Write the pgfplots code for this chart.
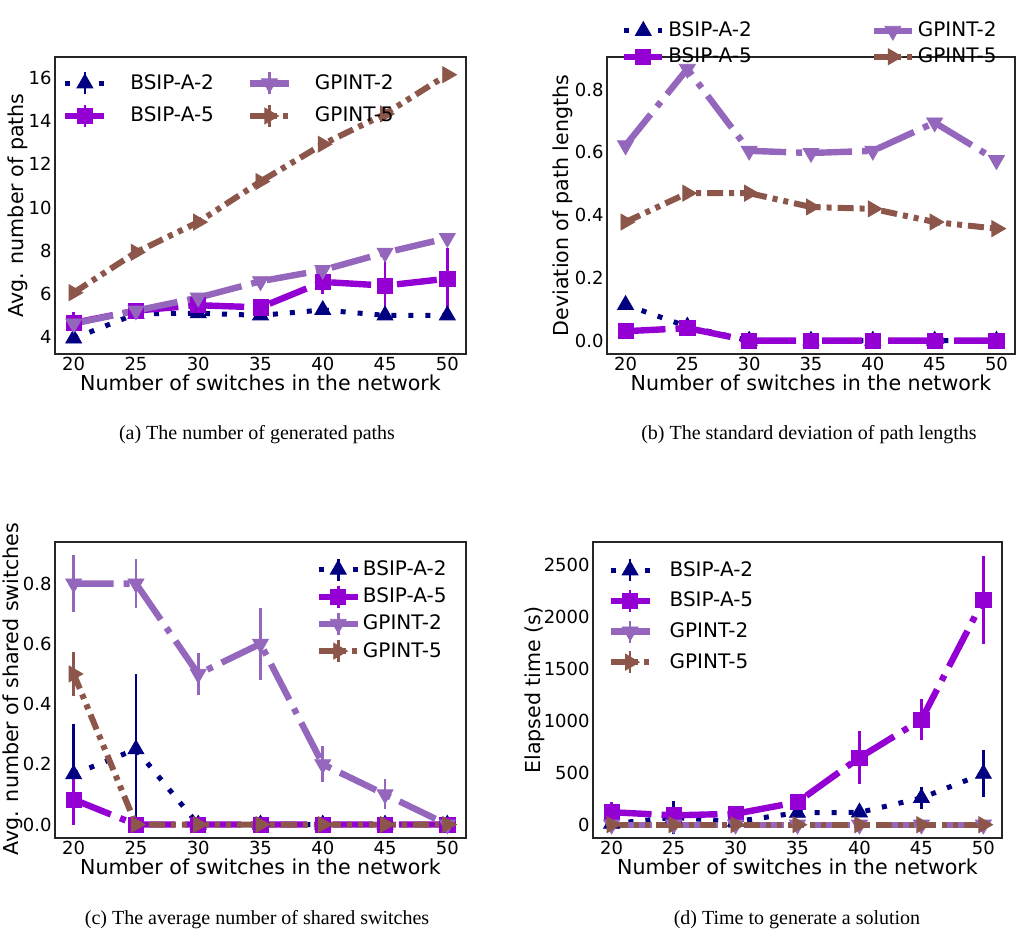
\documentclass[border=0pt]{standalone}
\usepackage{fontspec}
\setmainfont{DejaVu Sans}
\newfontfamily\capfont{Liberation Serif}
\usepackage{pgfplots}
\usepackage{pgfplotstable}
\pgfplotsset{compat=1.18}

\definecolor{navyc}{HTML}{000080}
\definecolor{violetc}{HTML}{9400D3}
\definecolor{tabpurple}{HTML}{9467BD}
\definecolor{tabbrown}{HTML}{8C564B}

% (a) avg number of paths: value, error
\pgfplotstableread{
x  a2   ea2  a5   ea5  g2   eg2  g5    eg5
20 3.93 0.10 4.65 0.50 4.62 0.10 6.05  0.10
25 5.07 0.10 5.22 0.15 5.22 0.10 7.92  0.10
30 5.10 0.08 5.47 0.15 5.82 0.10 9.32  0.10
35 5.00 0.06 5.37 0.20 6.58 0.10 11.20 0.10
40 5.25 0.25 6.55 0.55 7.10 0.10 12.93 0.10
45 5.00 0.06 6.38 1.15 7.90 0.10 14.33 0.10
50 5.00 0.06 6.70 1.40 8.58 0.10 16.15 0.10
}\tpaths

% (b) deviation of path lengths
\pgfplotstableread{
x  a2    a5    g2    g5
20 0.114 0.030 0.622 0.378
25 0.045 0.040 0.866 0.470
30 0     0     0.605 0.470
35 0     0     0.598 0.426
40 0     0     0.605 0.420
45 0     0     0.695 0.378
50 0     0     0.575 0.357
}\tdev

% (c) avg number of shared switches
\pgfplotstableread{
x  a2    ea2   a5    ea5   g2  eg2   g5  eg5
20 0.167 0.167 0.083 0.083 0.8 0.095 0.5 0.072
25 0.25  0.25  0     0     0.8 0.08  0   0
30 0     0     0     0     0.5 0.07  0   0
35 0     0     0     0     0.6 0.12  0   0
40 0     0     0     0     0.2 0.06  0   0
45 0     0     0     0     0.1 0.05  0   0
50 0     0     0     0     0   0     0   0
}\tshared

% (d) elapsed time
\pgfplotstableread{
x  a2  ea2 a5   ea5 g2 eg2 g5 eg5
20 10  30  120  95  0  0   0  0
25 70  160 90   40  0  0   0  0
30 30  30  105  40  0  0   0  0
35 115 40  217  40  0  0   0  0
40 118 30  645  255 0  0   0  0
45 257 103 1010 200 0  0   0  0
50 490 225 2160 425 0  0   0  0
}\ttime

\pgfplotsset{
  common/.style={
    scale only axis,
    axis line style={black!85, line width=0.6pt},
    major tick length=0pt,
    xmin=18.5, xmax=51.5,
    xtick={20,25,...,50},
    /pgf/number format/assume math mode=true,
    tick label style={font=\fontsize{9}{10}\selectfont, inner sep=1.5pt},
    label style={font=\fontsize{10.3}{12}\selectfont},
    xlabel={Number of switches in the network},
    xlabel style={at={(axis description cs:0.5,-0.098)}, anchor=center},
    legend style={draw=none, fill=none, font=\fontsize{10}{12}\selectfont,
      inner sep=0pt, column sep=0pt, nodes={inner sep=1pt}},
    legend cell align=left,
  },
  s1/.style={color=navyc, line width=2.5pt, dash pattern=on 2.5pt off 6pt,
    mark=triangle*, mark size=4.6pt, mark options={solid, line width=0.4pt}},
  s2/.style={color=violetc, line width=3.2pt, dash pattern=on 20pt off 5pt on 3pt off 5pt,
    mark=square*, mark size=3.8pt, mark options={solid, line width=0.4pt}},
  s3/.style={color=tabpurple, line width=3.2pt, dash pattern=on 20pt off 5pt on 3pt off 5pt,
    mark=triangle*, mark size=4.6pt, mark options={solid, rotate=180, line width=0.4pt}},
  s4/.style={color=tabbrown, line width=3pt, dash pattern=on 8pt off 3pt on 2.5pt off 3pt on 2.5pt off 3pt,
    mark=triangle*, mark size=4.6pt, mark options={solid, rotate=-90, line width=0.4pt}},
  eb/.style={error bars/.cd, y dir=both, y explicit, error mark=none,
    error bar style={solid, line width=1.3pt}},
  % legend sample with error bar; #1 = blank room left of the sample, #2 = gap to the text
  ebleg/.style 2 args={legend image code/.code={
    \path[draw=none, fill=none] (-#1,0pt) -- (19.5pt+#2,0pt);
    \draw[##1, solid, line width=1.3pt] (9.75pt,-5.5pt) -- (9.75pt,5.5pt);
    \draw[mark repeat=2, mark phase=2, ##1] plot coordinates {(0pt,0pt) (9.75pt,0pt) (19.5pt,0pt)};}},
  plainleg/.style 2 args={legend image code/.code={
    \path[draw=none, fill=none] (-#1,0pt) -- (19pt+#2,0pt);
    \draw[mark repeat=2, mark phase=2, ##1] plot coordinates {(0pt,0pt) (9.5pt,0pt) (19pt,0pt)};}},
}

\begin{document}
\begin{tikzpicture}
\useasboundingbox (0pt,0pt) rectangle (517.5pt,-469pt);

% (a)
\begin{axis}[common, ebleg={17pt}{12pt},
  at={(27.5pt,-28.5pt)}, anchor=north west, width=205.5pt, height=148.5pt,
  ymin=3.21, ymax=16.97, ytick={4,6,...,16},
  ylabel={Avg. number of paths},
  ylabel style={at={(axis description cs:-0.09,0.5)}, anchor=center},
  legend columns=2, transpose legend,
  legend style={at={(axis description cs:-0.0584,0.954)}, anchor=north west, row sep=4pt},
]
\addplot+[s1, eb] table[x=x, y=a2, y error=ea2] {\tpaths};
\addplot+[s2, eb] table[x=x, y=a5, y error=ea5] {\tpaths};
\addplot+[s3, eb] table[x=x, y=g2, y error=eg2] {\tpaths};
\addplot+[s4, eb] table[x=x, y=g5, y error=eg5] {\tpaths};
\legend{BSIP-A-2, BSIP-A-5, GPINT-2, GPINT-5}
\end{axis}

% (b)
\begin{axis}[common, plainleg={60pt}{2pt},
  at={(303.5pt,-28.5pt)}, anchor=north west, width=204pt, height=148.5pt,
  ymin=-0.0426, ymax=0.904, ytick={0,0.2,...,0.8},
  yticklabel style={/pgf/number format/fixed, /pgf/number format/fixed zerofill, /pgf/number format/precision=1},
  ylabel={Deviation of path lengths},
  ylabel style={at={(axis description cs:-0.108,0.5)}, anchor=center},
  legend columns=2, transpose legend,
  legend style={at={(axis description cs:-0.2527,0.9628)}, anchor=south west, row sep=2pt},
]
\addplot+[s1] table[x=x, y=a2] {\tdev};
\addplot+[s2] table[x=x, y=a5] {\tdev};
\addplot+[s3] table[x=x, y=g2] {\tdev};
\addplot+[s4] table[x=x, y=g5] {\tdev};
\legend{BSIP-A-2, BSIP-A-5, GPINT-2, GPINT-5}
\end{axis}

% (c)
\begin{axis}[common, ebleg={0pt}{-1pt},
  at={(27.5pt,-271pt)}, anchor=north west, width=205.5pt, height=148pt,
  ymin=-0.0447, ymax=0.938, ytick={0,0.2,...,0.8},
  yticklabel style={/pgf/number format/fixed, /pgf/number format/fixed zerofill, /pgf/number format/precision=1},
  ylabel={Avg. number of shared switches},
  ylabel style={at={(axis description cs:-0.102,0.503)}, anchor=center},
  legend style={at={(axis description cs:0.633,0.95)}, anchor=north west, row sep=1.3pt},
]
\addplot+[s1, eb] table[x=x, y=a2, y error=ea2] {\tshared};
\addplot+[s2, eb] table[x=x, y=a5, y error=ea5] {\tshared};
\addplot+[s3, eb] table[x=x, y=g2, y error=eg2] {\tshared};
\addplot+[s4, eb] table[x=x, y=g5, y error=eg5] {\tshared};
\legend{BSIP-A-2, BSIP-A-5, GPINT-2, GPINT-5}
\end{axis}

% (d)
\begin{axis}[common, ebleg={0pt}{9pt},
  at={(296.5pt,-271pt)}, anchor=north west, width=204.5pt, height=148pt,
  ymin=-128, ymax=2718, ytick={0,500,...,2500},
  yticklabel style={/pgf/number format/set thousands separator={}},
  ylabel={Elapsed time (s)},
  ylabel style={at={(axis description cs:-0.142,0.5)}, anchor=center},
  legend style={at={(axis description cs:0.0343,0.947)}, anchor=north west, row sep=3pt},
]
\addplot+[s1, eb] table[x=x, y=a2, y error=ea2] {\ttime};
\addplot+[s2, eb] table[x=x, y=a5, y error=ea5] {\ttime};
\addplot+[s3, eb] table[x=x, y=g2, y error=eg2] {\ttime};
\addplot+[s4, eb] table[x=x, y=g5, y error=eg5] {\ttime};
\legend{BSIP-A-2, BSIP-A-5, GPINT-2, GPINT-5}
\end{axis}

\node[font=\capfont\fontsize{10}{12}\selectfont] at (128.5pt,-217.5pt) {(a) The number of generated paths};
\node[font=\capfont\fontsize{10}{12}\selectfont] at (404.5pt,-217.5pt) {(b) The standard deviation of path lengths};
\node[font=\capfont\fontsize{10}{12}\selectfont] at (128.5pt,-460pt) {(c) The average number of shared switches};
\node[font=\capfont\fontsize{10}{12}\selectfont] at (398.5pt,-460pt) {(d) Time to generate a solution};
\end{tikzpicture}
\end{document}
